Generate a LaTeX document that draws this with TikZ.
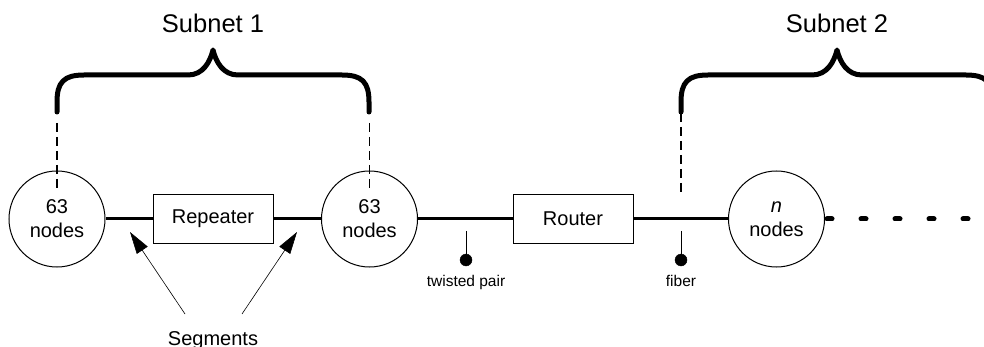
\documentclass[tikz,border=0pt]{standalone}
\usepackage{fontspec}
\setmainfont{Liberation Sans}
\usetikzlibrary{arrows.meta}
\tikzset{
  lannode/.style={draw,circle,line width=1pt,minimum size=96pt,inner sep=0pt,align=center,font=\fontsize{20}{24}\selectfont},
  devbox/.style={draw,rectangle,line width=1pt,minimum width=120pt,minimum height=48pt,font=\fontsize{20}{24}\selectfont},
  busline/.style={line width=3pt},
  subnetbrace/.style={line width=5pt,line cap=round,line join=round},
  subnetguide/.style={line width=1.8pt,dash pattern=on 9pt off 5pt},
  tapdot/.style={draw,fill,circle,minimum size=12pt,inner sep=0pt},
  mediumlabel/.style={font=\fontsize{15.5}{18}\selectfont,anchor=base},
  subnetlabel/.style={font=\fontsize{25.5}{30}\selectfont,anchor=base},
  seglabel/.style={font=\fontsize{20}{24}\selectfont,anchor=base},
  segarrow/.style={line width=0.6pt,-{Triangle[length=22pt,width=13pt]}},
}
\begin{document}
\begin{tikzpicture}[x=1pt,y=-1pt]
\useasboundingbox (0,0) rectangle (984,347);
\clip (0,0) rectangle (984,347);
% stations and devices on the bus
\node[lannode] (lan1) at (57,219) {63\\nodes};
\node[devbox] (rep) at (213,219) {Repeater};
\node[lannode] (lan2) at (369.5,219) {63\\nodes};
\node[devbox] (rout) at (573,219) {Router};
\node[lannode] (lan3) at (776.5,219) {\textit{n}\\nodes};
\draw[busline] (lan1.east) -- (rep.west);
\draw[busline] (rep.east) -- (lan2.west);
\draw[busline] (lan2.east) -- (rout.west);
\draw[busline] (rout.east) -- (lan3.west);
% more nodes follow
\coordinate (busend) at (990,219);
\draw[line width=5pt,line cap=round,dash pattern=on 5pt off 29pt] ([xshift=2pt]lan3.east) -- (busend);
% media taps
\foreach \x/\name/\txt in {466/tp/twisted pair,681/fib/fiber} {
  \coordinate (\name top) at (\x,231);
  \node[tapdot] (\name dot) at (\x,260) {};
  \draw[line width=1pt] (\name top) -- (\name dot);
  \node[mediumlabel] (\name label) at (\x,286) {\txt};
}
% subnet braces
\foreach \l/\k in {57/1,681/2} {
  \draw[subnetbrace] (\l,112) -- ++(0,-10)
    .. controls +(0,-20) and +(-20,0) .. ++(27,-27) -- ++(104,0)
    .. controls +(15,0) and +(-3,12) .. ++(25,-25)
    .. controls +(3,12) and +(-15,0) .. ++(25,25) -- ++(104,0)
    .. controls +(20,0) and +(0,-20) .. ++(27,27) -- ++(0,10);
  \node[subnetlabel] (subnet\k) at (\l+156,33) {Subnet \k};
}
\coordinate (g1top) at (57,123);
\coordinate (g1bot) at (57,192);
\coordinate (g2top) at (369.5,123);
\coordinate (g2bot) at (369.5,192);
\coordinate (g3top) at (681,113);
\coordinate (g3bot) at (681,193);
\draw[subnetguide] (g1top) -- (g1bot);
\draw[subnetguide] (g2top) -- (g2bot);
\draw[subnetguide] (g3top) -- (g3bot);
% segments
\node[seglabel] (seg) at (213,345) {Segments};
\coordinate (segA) at (185,314);
\coordinate (segB) at (242,314);
\coordinate (tipA) at (130,232);
\coordinate (tipB) at (297,232);
\draw[segarrow] (segA) -- (tipA);
\draw[segarrow] (segB) -- (tipB);
\end{tikzpicture}
\end{document}
